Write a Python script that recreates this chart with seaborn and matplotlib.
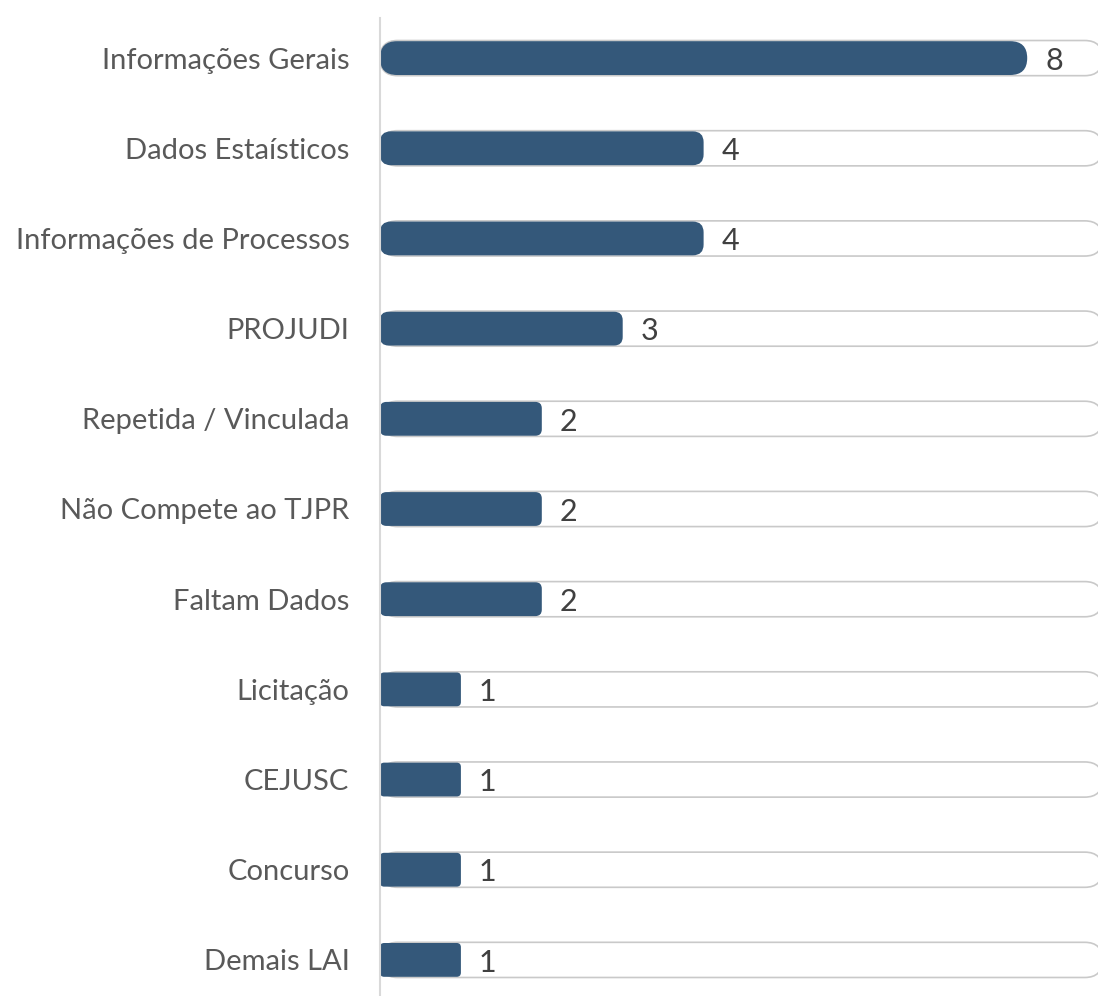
import matplotlib
matplotlib.use("Agg")
import matplotlib.pyplot as plt
from matplotlib.patches import FancyBboxPatch
import seaborn as sns

# data
categories = ["Informações Gerais", "Dados Estaísticos", "Informações de Processos",
              "PROJUDI", "Repetida / Vinculada", "Não Compete ao TJPR",
              "Faltam Dados", "Licitação", "CEJUSC", "Concurso", "Demais LAI"]
values = [8, 4, 4, 3, 2, 2, 2, 1, 1, 1, 1]

bar_color = "#34587a"
track_edge = "#c9c9c9"
label_color = "#595959"
value_color = "#404040"

sns.set_theme(style="white")
plt.rcParams["font.family"] = ["Lato", "DejaVu Sans"]

W, H = 1098, 996
fig = plt.figure(figsize=(W / 100, H / 100), dpi=100)
ax = fig.add_axes([380 / W, -9 / H, 718 / W, 992 / H])

xmax = 8.875
track_end = 8.93

# background tracks, then the bars
sns.barplot(x=[track_end] * len(categories), y=categories, orient="h",
            color="white", width=0.39, ax=ax, edgecolor=track_edge,
            linewidth=1.2)
n_track = len(ax.patches)
sns.barplot(x=values, y=categories, orient="h", color=bar_color,
            saturation=1, width=0.375, ax=ax)

ax.set_xlim(0, xmax)
ax.set_ylim(len(categories) - 0.5, -0.5)

# pixel scales for rounding
xpp = xmax / 718
ypp = len(categories) / 992
aspect = ypp / xpp

patches = list(ax.patches)
for k, p in enumerate(patches):
    x, y = p.get_x(), p.get_y()
    w, h = p.get_width(), p.get_height()
    h_px = h / ypp
    if k < n_track:
        r_px = h_px / 2
        fc, ec, lw, z = "white", track_edge, 1.2, 1
    else:
        r_px = min(h_px / 2, 2 + 2.2 * values[k - n_track])
        fc, ec, lw, z = bar_color, "none", 0, 2
    p.remove()
    ax.add_patch(FancyBboxPatch((x, y), w, h,
                                boxstyle=f"round,pad=0,rounding_size={r_px * xpp}",
                                mutation_aspect=aspect, facecolor=fc,
                                edgecolor=ec, linewidth=lw, zorder=z,
                                clip_on=False))

for i, v in enumerate(values):
    ax.text(v + 18 * xpp, i + 0.03, str(v), va="center", ha="left",
            fontsize=22, color=value_color, zorder=3)

ax.set_xlabel("")
ax.set_ylabel("")
ax.set_xticks([])
ax.tick_params(axis="y", length=0, pad=22, labelsize=21, labelcolor=label_color)
for s in ["top", "right", "bottom"]:
    ax.spines[s].set_visible(False)
ax.spines["left"].set_color("#d9d9d9")
ax.spines["left"].set_linewidth(1.5)
ax.spines["left"].set_bounds(len(categories) - 0.5, -0.45)

fig.savefig("out.png", dpi=100)
